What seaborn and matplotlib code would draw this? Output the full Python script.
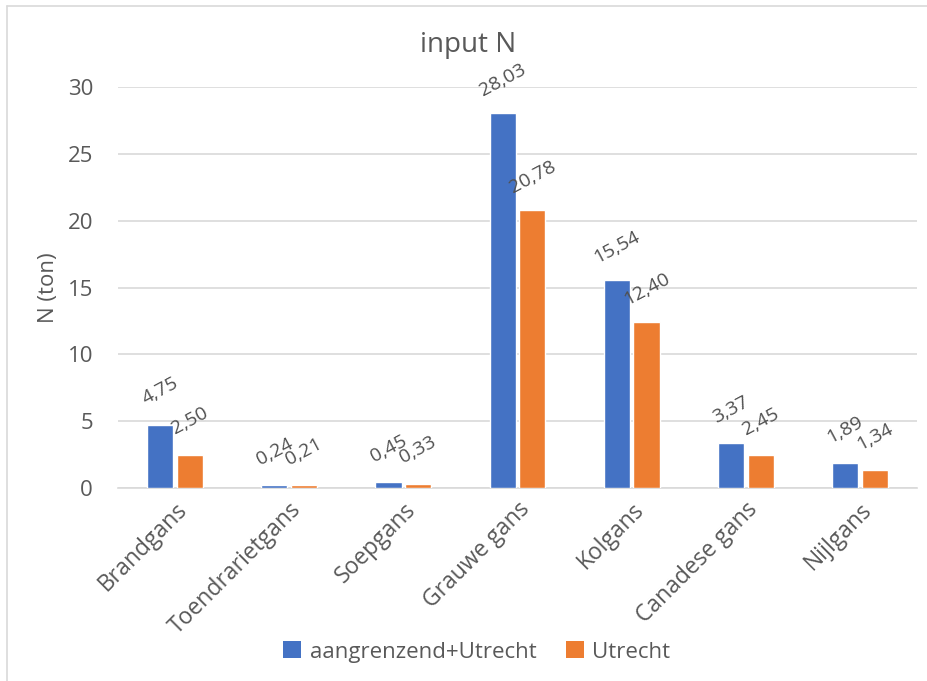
import matplotlib
matplotlib.use("Agg")
import matplotlib.pyplot as plt
import seaborn as sns
import pandas as pd
from matplotlib.lines import Line2D
from matplotlib.patches import Patch

# Nitrogen input per goose species (tonnes)
categories = ["Brandgans", "Toendrarietgans", "Soepgans", "Grauwe gans",
              "Kolgans", "Canadese gans", "Nijlgans"]
series_names = ["aangrenzend+Utrecht", "Utrecht"]
aangrenzend_utrecht = [4.75, 0.24, 0.45, 28.03, 15.54, 3.37, 1.89]
utrecht = [2.50, 0.21, 0.33, 20.78, 12.40, 2.45, 1.34]
y_ticks = [0, 5, 10, 15, 20, 25, 30]

colors = ["#4472C4", "#ED7D31"]
text_color = "#595959"
grid_color = "#D9D9D9"

df = pd.DataFrame({
    "soort": categories * 2,
    "reeks": [series_names[0]] * len(categories) + [series_names[1]] * len(categories),
    "N": aangrenzend_utrecht + utrecht,
})

sns.set_theme(style="white")
plt.rcParams["font.family"] = ["Open Sans", "DejaVu Sans"]

fig = plt.figure(figsize=(9.28, 6.81), dpi=100)
ax = fig.add_axes([118 / 928, 1 - 488 / 681, (917 - 118) / 928, (488 - 87) / 681])

sns.barplot(data=df, x="soort", y="N", hue="reeks", order=categories,
            hue_order=series_names, palette=colors, width=0.52, gap=0.12,
            saturation=1, legend=False, ax=ax, zorder=3)

ax.set_ylim(0, 30)
ax.set_yticks(y_ticks)
ax.set_yticklabels([str(t) for t in y_ticks])
ax.yaxis.grid(True, color=grid_color, linewidth=1.2, zorder=0)
ax.set_axisbelow(True)
for side in ["left", "right", "top"]:
    ax.spines[side].set_visible(False)
ax.spines["bottom"].set_color(grid_color)
ax.spines["bottom"].set_linewidth(1.2)
ax.tick_params(axis="both", length=0, colors=text_color, labelsize=16)
ax.tick_params(axis="y", pad=18)
ax.tick_params(axis="x", pad=7)
for lbl in ax.get_xticklabels():
    lbl.set_rotation(45)
    lbl.set_ha("right")
    lbl.set_rotation_mode("anchor")
    lbl.set_fontsize(16.5)

ax.set_xlabel("")
ax.set_ylabel("N (ton)", color=text_color, fontsize=16, labelpad=6)

# value labels above each bar, rotated
for container in ax.containers:
    for bar in container:
        h = bar.get_height()
        ax.annotate(f"{h:.2f}".replace(".", ","),
                    xy=(bar.get_x() + bar.get_width() / 2, h),
                    xytext=(0, 24), textcoords="offset points",
                    ha="center", va="center", rotation=28,
                    rotation_mode="anchor", fontsize=14, color="#505050",
                    annotation_clip=False)

fig.text(468 / 928, 1 - 45 / 681, "input N", ha="center", va="center",
         fontsize=20, color=text_color)

handles = [Patch(facecolor=c, edgecolor="none") for c in colors]
fig.legend(handles, series_names, loc="center", bbox_to_anchor=(477 / 928, 1 - 652 / 681),
           ncol=2, frameon=False, fontsize=16, labelcolor=text_color,
           handlelength=0.8, handleheight=0.8, handletextpad=0.4, columnspacing=1.3)

# light frame on the top and left edges of the chart area
fig.add_artist(Line2D([7 / 928, 1], [1 - 6 / 681, 1 - 6 / 681], transform=fig.transFigure,
                      color=grid_color, linewidth=1.2))
fig.add_artist(Line2D([7 / 928, 7 / 928], [0, 1 - 6 / 681], transform=fig.transFigure,
                      color=grid_color, linewidth=1.2))

fig.savefig("out.png", dpi=100, facecolor="white")
